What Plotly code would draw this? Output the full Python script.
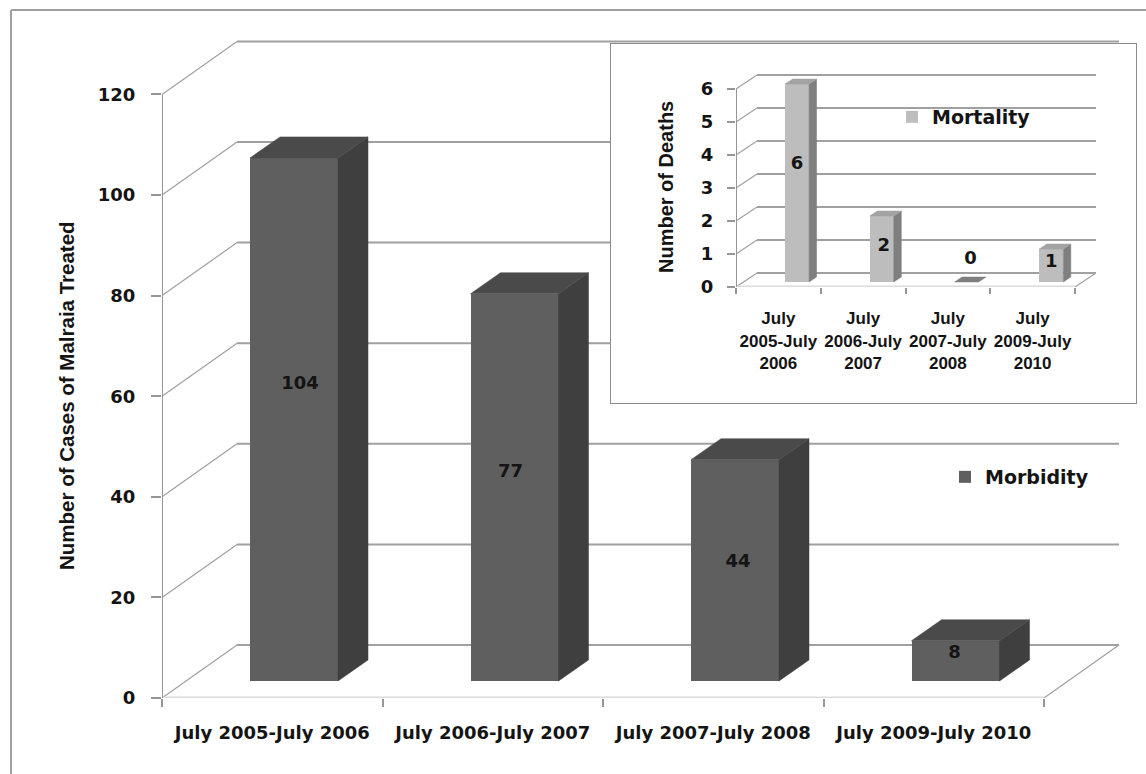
import plotly.graph_objects as go

W, H = 1146, 774

# ---- data ----
periods_main = ["July 2005-July 2006", "July 2006-July 2007", "July 2007-July 2008", "July 2009-July 2010"]
periods_inset = ["July<br>2005-July<br>2006", "July<br>2006-July<br>2007", "July<br>2007-July<br>2008", "July<br>2009-July<br>2010"]
morbidity = [104, 77, 44, 8]
mortality = [6, 2, 0, 1]
main_ticks = [0, 20, 40, 60, 80, 100, 120]
inset_ticks = [0, 1, 2, 3, 4, 5, 6]

# ---- style / layout ----
DARK_FRONT, DARK_SIDE, DARK_TOP = "#5f5f5f", "#3f3f3f", "#4a4a4a"
LIGHT_FRONT, LIGHT_SIDE, LIGHT_TOP = "#bdbdbd", "#7f7f7f", "#a3a3a3"
GRID = "#a0a0a0"
AXIS = "#969696"
INK = "#141414"
BOLD = "DejaVu Sans"
NARROW = "Liberation Sans"


def dx(a, b):
    return [a / W, b / W]


def dy(top, bottom):
    return [(H - bottom) / H, (H - top) / H]


def poly(xs, ys, color, xa, ya):
    return go.Scatter(x=xs + xs[:1], y=ys + ys[:1], mode="lines", fill="toself", fillcolor=color,
                      line=dict(color=color, width=0.5), hoverinfo="skip", showlegend=False,
                      xaxis=xa, yaxis=ya)


fig = go.Figure()
shapes = []


def add_chart(values, ticks, xa, ya, wall, bar, colors, name, legend, label_nudge, font_size):
    """wall=(dx,dy) depth of the wall; bar=(shift,width,lift,dx,dy) in axis units."""
    wx, wy = wall
    shift, width, lift, bx, by = bar
    front, side, top = colors
    n = len(values)
    for t in ticks:
        shapes.append(dict(type="line", xref=xa, yref=ya, x0=0, y0=t, x1=wx, y1=t + wy, layer="below",
                           line=dict(color=GRID, width=1.2)))
        shapes.append(dict(type="line", xref=xa, yref=ya, x0=wx, y0=t + wy, x1=n + wx, y1=t + wy, layer="below",
                           line=dict(color=GRID, width=2)))
    shapes.append(dict(type="line", xref=xa, yref=ya, x0=n, y0=0, x1=n + wx, y1=wy, layer="below",
                       line=dict(color=GRID, width=1.2)))
    fig.add_trace(go.Scatter(x=[0, n], y=[0, 0], mode="lines", line=dict(color="#dcdcdc", width=3),
                             hoverinfo="skip", showlegend=False, cliponaxis=False, xaxis=xa, yaxis=ya))
    fig.add_trace(go.Scatter(x=[0, 0], y=[0, ticks[-1]], mode="lines", line=dict(color=AXIS, width=2),
                             hoverinfo="skip", showlegend=False, cliponaxis=False, xaxis=xa, yaxis=ya))
    cx = [i + 0.5 + shift for i in range(n)]
    fig.add_trace(go.Bar(x=cx, y=values, base=[lift] * n, width=width, marker=dict(color=front, line=dict(width=0)),
                         name=name, legend=legend, showlegend=True, hoverinfo="skip", xaxis=xa, yaxis=ya))
    for c, v in zip(cx, values):
        l, r = c - width / 2, c + width / 2
        y0, y1 = lift, lift + v
        if v > 0:
            fig.add_trace(poly([r, r + bx, r + bx, r], [y0, y0 + by, y1 + by, y1], side, xa, ya))
        fig.add_trace(poly([l, r, r + bx, l + bx], [y1, y1, y1 + by, y1 + by], top if v > 0 else side, xa, ya))
    fig.add_trace(go.Scatter(
        x=[c + nx for c, (nx, _) in zip(cx, label_nudge)],
        y=[lift + v / 2 + ny for v, (_, ny) in zip(values, label_nudge)],
        text=[str(v) for v in values], mode="text", textposition="middle center",
        textfont=dict(family=BOLD, size=font_size, color=INK, weight=700),
        hoverinfo="skip", showlegend=False, xaxis=xa, yaxis=ya))


# ---- main chart (axes x / y) ----
CW, UH = 220.5, 5.03
add_chart(morbidity, main_ticks, "x", "y",
          wall=(75 / CW, 53 / UH),
          bar=(21.75 / CW, 88 / CW, 17 / UH, 30 / CW, 21 / UH),
          colors=(DARK_FRONT, DARK_SIDE, DARK_TOP), name="Morbidity", legend="legend",
          label_nudge=[(6 / CW, 7.0), (-4 / CW, 3.0), (3 / CW, 1.5), (-1 / CW, 1.5)], font_size=18)

# ---- inset panel (axes x2 / y2): white card that hides the wall behind it ----
fig.add_trace(go.Scatter(x=[0, 1, 1, 0, 0], y=[0, 0, 1, 1, 0], mode="lines", fill="toself", fillcolor="white",
                         line=dict(color="#8c8c8c", width=2), cliponaxis=False, hoverinfo="skip",
                         showlegend=False, xaxis="x2", yaxis="y2"))

# ---- inset chart (axes x3 / y3) ----
ICW, IUH = 84.75, 33.0
add_chart(mortality, inset_ticks, "x3", "y3",
          wall=(21 / ICW, 14 / IUH),
          bar=(18.7 / ICW, 24 / ICW, 5 / IUH, 7.5 / ICW, 5 / IUH),
          colors=(LIGHT_FRONT, LIGHT_SIDE, LIGHT_TOP), name="Mortality", legend="legend2",
          label_nudge=[(0, 0.57), (2 / ICW, 0.09), (4 / ICW, 0.68), (0, 0.08)], font_size=18)

tickgrey = AXIS
fig.update_layout(
    width=W, height=H, margin=dict(l=0, r=0, t=0, b=0, pad=0), paper_bgcolor="white", plot_bgcolor="white",
    shapes=shapes + [
        dict(type="line", xref="paper", yref="paper", x0=11 / W, y0=0, x1=11 / W, y1=(H - 10) / H,
             line=dict(color="#a0a0a0", width=2), layer="below"),
        dict(type="line", xref="paper", yref="paper", x0=11 / W, y0=(H - 10) / H, x1=1, y1=(H - 10) / H,
             line=dict(color="#a0a0a0", width=2), layer="below"),
    ],
    bargap=0,
    xaxis=dict(domain=dx(162, 1120), range=[0, (1120 - 162) / CW], anchor="y", showgrid=False, zeroline=False,
               automargin=False, tickmode="array", tickvals=[i + 0.5 for i in range(4)], ticktext=periods_main,
               ticks="outside", ticklen=0, ticklabelstandoff=18,
               tickfont=dict(family=BOLD, size=18, color=INK, weight=700),
               minor=dict(tickmode="array", tickvals=[0, 1, 2, 3, 4], ticks="outside", ticklen=8, tickwidth=1.5,
                          tickcolor=tickgrey, showgrid=False)),
    yaxis=dict(domain=dy(38, 698), range=[0, (698 - 38) / UH], anchor="x", showgrid=False, zeroline=False,
               automargin=False, tickmode="array", tickvals=main_ticks, ticks="outside", ticklen=10, tickwidth=1.5,
               tickcolor=tickgrey, ticklabelstandoff=12, tickfont=dict(family=BOLD, size=18, color=INK, weight=700)),
    xaxis2=dict(domain=dx(610, 1137), range=[0, 1], anchor="y2", visible=False, automargin=False),
    yaxis2=dict(domain=dy(43, 404), range=[0, 1], anchor="x2", visible=False, automargin=False),
    xaxis3=dict(domain=dx(736, 1099), range=[0, (1099 - 736) / ICW], anchor="y3", showgrid=False, zeroline=False,
                automargin=False, tickmode="array", tickvals=[i + 0.5 for i in range(4)], ticktext=periods_inset,
                ticks="outside", ticklen=0, ticklabelstandoff=16,
                tickfont=dict(family=NARROW, size=17, color=INK, weight=700),
                minor=dict(tickmode="array", tickvals=[0, 1, 2, 3, 4], ticks="outside", ticklen=6, tickwidth=1.5,
                           tickcolor=tickgrey, showgrid=False)),
    yaxis3=dict(domain=dy(72, 287), range=[0, (287 - 72) / IUH], anchor="x3", showgrid=False, zeroline=False,
                automargin=False, tickmode="array", tickvals=inset_ticks, ticks="outside", ticklen=8, tickwidth=1.5,
                tickcolor=tickgrey, ticklabelstandoff=10, tickfont=dict(family=BOLD, size=18, color=INK, weight=700)),
    legend=dict(x=1094 / W, xanchor="right", y=(H - 477) / H, yanchor="middle", bgcolor="rgba(0,0,0,0)",
                font=dict(family=BOLD, size=19, color=INK, weight=700), itemclick=False, itemdoubleclick=False),
    legend2=dict(x=1036 / W, xanchor="right", y=(H - 117) / H, yanchor="middle", bgcolor="rgba(0,0,0,0)",
                 font=dict(family=BOLD, size=19, color=INK, weight=700), itemclick=False, itemdoubleclick=False),
    annotations=[
        dict(text="Number of Cases of Malraia Treated", xref="paper", yref="paper", x=66 / W, y=(H - 396) / H,
             xanchor="center", yanchor="middle",
             textangle=-90, showarrow=False, font=dict(family=NARROW, size=20.5, color=INK, weight=700)),
        dict(text="Number of Deaths", xref="paper", yref="paper", x=666 / W, y=(H - 187) / H,
             xanchor="center", yanchor="middle",
             textangle=-90, showarrow=False, font=dict(family=NARROW, size=20, color=INK, weight=700)),
    ],
)

fig.write_html("out.html", config=dict(displayModeBar=False),
               post_script="document.body.style.margin='0';document.documentElement.style.overflow='hidden';")
